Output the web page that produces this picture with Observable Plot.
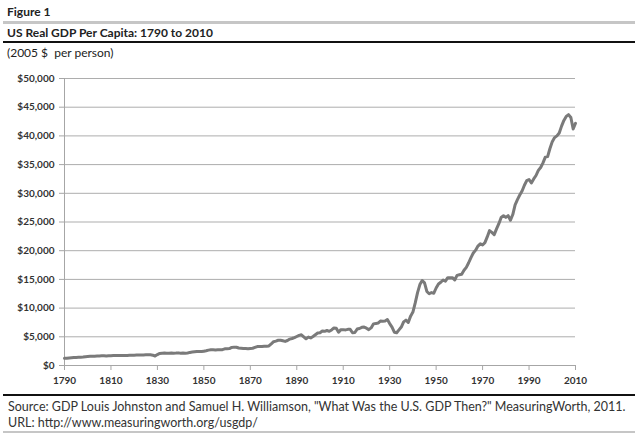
<!DOCTYPE html>
<html>
<head>
<meta charset="utf-8">
<script src="https://cdn.jsdelivr.net/npm/d3@7"></script>
<script src="https://cdn.jsdelivr.net/npm/@observablehq/plot@0.6"></script>
<style>
  html, body { margin: 0; padding: 0; background: #fff; }
  #wrap { position: relative; width: 635px; height: 433px; font-family: Lato, "Open Sans", sans-serif; color: #222; overflow: hidden; }
  .t { position: absolute; left: 7px; white-space: nowrap; }
  .rule { position: absolute; left: 3px; right: 0; }
  #chart { position: absolute; left: 0; top: 60px; }
  #chart svg g[aria-label="y-axis tick"], #chart svg g[aria-label="x-axis tick"] { stroke: #a6a6a6; }
</style>
</head>
<body>
<div id="wrap">
  <div class="t" style="top:4px;font-size:12px;font-weight:bold;">Figure 1</div>
  <div class="rule" style="top:21px;height:3px;background:#c6c6c6;"></div>
  <div class="t" style="top:25px;font-size:12px;font-weight:bold;">US Real GDP Per Capita: 1790 to 2010</div>
  <div class="rule" style="top:41px;height:2px;background:#111;"></div>
  <div class="t" style="top:45px;font-size:12px;">(2005 $&nbsp; per person)</div>
  <div id="chart"></div>
  <div class="rule" style="top:394px;height:2px;background:#111;"></div>
  <div class="t" style="top:399px;font-size:12.5px;left:8px;color:#333;">Source: GDP Louis Johnston and Samuel H. Williamson, "What Was the U.S. GDP Then?" MeasuringWorth, 2011.</div>
  <div class="t" style="top:415px;font-size:12.5px;left:8px;color:#333;">URL: http://www.measuringworth.org/usgdp/</div>
  <div class="rule" style="top:431px;height:2px;background:#c6c6c6;"></div>
</div>
<script>
const years = d3.range(1790, 2011);
const gdpPerCapita = [
  // 1790-1799
  1250, 1280, 1320, 1350, 1380, 1400, 1420, 1440, 1470, 1540,
  // 1800-1809
  1570, 1600, 1620, 1620, 1640, 1660, 1680, 1700, 1660, 1700,
  // 1810-1819
  1720, 1740, 1740, 1740, 1750, 1760, 1750, 1760, 1780, 1780,
  // 1820-1829
  1800, 1810, 1820, 1830, 1840, 1860, 1870, 1880, 1800, 1650,
  // 1830-1839
  1900, 2100, 2150, 2160, 2120, 2150, 2170, 2150, 2160, 2200,
  // 1840-1849
  2150, 2160, 2150, 2180, 2280, 2340, 2400, 2450, 2450, 2440,
  // 1850-1859
  2500, 2560, 2680, 2740, 2730, 2720, 2740, 2730, 2760, 2900,
  // 1860-1869
  2920, 2950, 3150, 3200, 3180, 3050, 3000, 2950, 2950, 2900,
  // 1870-1879
  2950, 3000, 3150, 3300, 3300, 3300, 3350, 3350, 3400, 3750,
  // 1880-1889
  4150, 4250, 4400, 4400, 4300, 4200, 4350, 4600, 4700, 4850,
  // 1890-1899
  5050, 5250, 5350, 5000, 4650, 4950, 4800, 5050, 5350, 5650,
  // 1900-1909
  5700, 6000, 5950, 6100, 5950, 6200, 6550, 6500, 5800, 6250,
  // 1910-1919
  6250, 6200, 6300, 6300, 5700, 5750, 6350, 6450, 6650, 6700,
  // 1920-1929
  6500, 6250, 6550, 7250, 7300, 7400, 7750, 7700, 7750, 8000,
  // 1930-1939
  7300, 6700, 5800, 5700, 6200, 6700, 7600, 7900, 7500, 8600,
  // 1940-1949
  9300, 10900, 12700, 14100, 14800, 14400, 12900, 12500, 12700, 12600,
  // 1950-1959
  13500, 14200, 14500, 14900, 14700, 15300, 15300, 15300, 14900, 15700,
  // 1960-1969
  15800, 15900, 16600, 17100, 17900, 18800, 19600, 20100, 20800, 21200,
  // 1970-1979
  21000, 21400, 22400, 23500, 23200, 22800, 23800, 24700, 25800, 26100,
  // 1980-1989
  25800, 26100, 25300, 26300, 28000, 28900, 29700, 30400, 31400, 32200,
  // 1990-1999
  32400, 31800, 32500, 33100, 34000, 34500, 35300, 36300, 36400, 37800,
  // 2000-2010
  39000, 39700, 40000, 40500, 41700, 42700, 43400, 43700, 43200, 41200, 42200
];
const xTicks = d3.range(1790, 2011, 20);
const yTicks = d3.range(0, 50001, 5000);

const data = years.map((year, i) => ({year, value: gdpPerCapita[i]}));

const chart = Plot.plot({
  width: 635,
  height: 335,
  marginTop: 18,
  marginBottom: 30,
  marginLeft: 64,
  marginRight: 60,
  style: {fontFamily: "Lato, 'Open Sans', sans-serif", fontSize: "10px", fontWeight: "bold", color: "#333", background: "transparent"},
  x: {domain: [1790, 2010], ticks: xTicks, tickFormat: d => String(d), tickSize: 5, tickPadding: 6, label: null},
  y: {domain: [0, 50000], ticks: yTicks, tickFormat: d => "$" + d3.format(",")(d), tickSize: 5, tickPadding: 5, label: null},
  marks: [
    Plot.ruleY(yTicks.filter(d => d > 0), {stroke: "#adadad", strokeWidth: 1}),
    Plot.ruleY([0], {stroke: "#a6a6a6", strokeWidth: 1}),
    Plot.ruleX([1790], {stroke: "#a6a6a6", strokeWidth: 1}),
    Plot.line(data, {x: "year", y: "value", stroke: "#7a7a7a", strokeWidth: 3, strokeLinejoin: "round", strokeLinecap: "round"})
  ]
});
document.getElementById("chart").appendChild(chart);
</script>
</body>
</html>
